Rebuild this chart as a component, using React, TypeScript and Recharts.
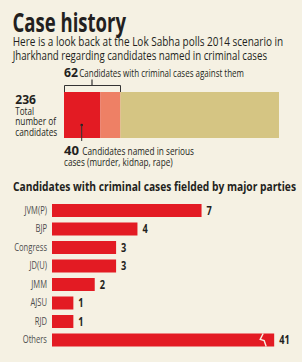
import React from "react";
import { Bar, BarChart, LabelList, XAxis, YAxis } from "recharts";

const totalCandidates = 236;
const criminalCandidates = 62;
const seriousCandidates = 40;

const parties = ["JVM(P)", "BJP", "Congress", "JD(U)", "JMM", "AJSU", "RJD", "Others"];
const partyCases = [7, 4, 3, 3, 2, 1, 1, 41];

// the axis stops at 11; anything longer is drawn as a broken bar
const axisMax = 11;
const breakAt = 10.4;

const BG = "#f5f1e3";
const RED = "#e31b23";
const SALMON = "#ee8065";
const TAN = "#d5c583";
const INK = "#231f20";
const FONT = "'Open Sans', 'Liberation Sans', sans-serif";

const summary = [
  {
    name: "all",
    serious: seriousCandidates,
    otherCriminal: criminalCandidates - seriousCandidates,
    clean: totalCandidates - criminalCandidates,
  },
];

const partyRows = parties.map((party, i) => ({
  party,
  value: partyCases[i],
  shown: Math.min(partyCases[i], breakAt),
}));

// condensed text: the source face is much narrower than anything installed
function T({
  x,
  y,
  len,
  size,
  bold,
  children,
}: {
  x: number;
  y: number;
  len: number;
  size: number;
  bold?: boolean;
  children: React.ReactNode;
}) {
  return (
    <text
      x={x}
      y={y}
      textLength={len}
      lengthAdjust="spacingAndGlyphs"
      fontSize={size}
      fontWeight={bold ? 700 : 400}
      fill={INK}
      fontFamily={FONT}
    >
      {children}
    </text>
  );
}

function PartyTick(props: any) {
  const { x, y, payload } = props;
  return (
    <g transform={`translate(${x},${y + 3.5}) scale(0.76,1)`}>
      <text textAnchor="end" fontSize={10} fill="#4d4d4d" fontFamily={FONT}>
        {payload.value}
      </text>
    </g>
  );
}

function PartyBar(props: any) {
  const { x, y, width, height, payload } = props;
  const broken = payload.value > payload.shown;
  const bx = x + width - 12;
  return (
    <g>
      <rect x={x} y={y} width={width} height={height} fill={RED} />
      {broken && (
        <polyline
          points={`${bx + 1},${y} ${bx - 2},${y + height * 0.45} ${bx + 2},${y + height * 0.55} ${bx + 4},${y + height}`}
          fill="none"
          stroke={BG}
          strokeWidth={1.4}
        />
      )}
    </g>
  );
}

function ValueLabel(props: any) {
  const { x, y, width, height, value } = props;
  return (
    <g transform={`translate(${x + width + 5},${y + height / 2 + 4}) scale(0.8,1)`}>
      <text fontSize={11.5} fontWeight={700} fill={INK} fontFamily={FONT}>
        {value}
      </text>
    </g>
  );
}

export default function App() {
  return (
    <div
      style={{
        position: "absolute",
        left: 0,
        top: 0,
        width: 302,
        height: 362,
        background: BG,
        overflow: "hidden",
      }}
    >
      <div style={{ position: "absolute", left: 0, top: 92 }}>
        <BarChart
          width={302}
          height={46}
          layout="vertical"
          data={summary}
          margin={{ top: 0, right: 23, bottom: 0, left: 64 }}
          barCategoryGap={0}
        >
          <XAxis type="number" hide domain={[0, totalCandidates]} />
          <YAxis type="category" dataKey="name" hide />
          <Bar dataKey="serious" stackId="a" fill={RED} isAnimationActive={false} />
          <Bar dataKey="otherCriminal" stackId="a" fill={SALMON} isAnimationActive={false} />
          <Bar dataKey="clean" stackId="a" fill={TAN} isAnimationActive={false} />
        </BarChart>
      </div>

      <div style={{ position: "absolute", left: 0, top: 201 }}>
        <BarChart
          width={302}
          height={148}
          layout="vertical"
          data={partyRows}
          margin={{ top: 0, right: 15, bottom: 0, left: 0 }}
          barSize={13}
        >
          <XAxis type="number" hide domain={[0, axisMax]} />
          <YAxis
            type="category"
            dataKey="party"
            width={52}
            axisLine={false}
            tickLine={false}
            tickSize={3}
            tickMargin={2}
            interval={0}
            tick={<PartyTick />}
          />
          <Bar dataKey="shown" shape={<PartyBar />} isAnimationActive={false}>
            <LabelList dataKey="value" content={<ValueLabel />} />
          </Bar>
        </BarChart>
      </div>

      <svg
        width={302}
        height={362}
        style={{ position: "absolute", left: 0, top: 0, pointerEvents: "none" }}
      >
        <T x={12.5} y={31.7} len={113.5} size={27} bold>
          Case history
        </T>
        <T x={12.7} y={45.5} len={270.5} size={12}>
          Here is a look back at the Lok Sabha polls 2014 scenario in
        </T>
        <T x={12.7} y={59.5} len={254.3} size={12}>
          Jharkhand regarding candidates named in criminal cases
        </T>

        <T x={64} y={76.7} len={14} size={12.5} bold>
          {String(criminalCandidates)}
        </T>
        <T x={79.3} y={76.7} len={164.7} size={10}>
          Candidates with criminal cases against them
        </T>
        <path d="M64.5 92 V85.5 H120.5 V92" fill="none" stroke="#333" strokeWidth={1} />
        <path d="M92 85.5 V79.5" stroke="#333" strokeWidth={1.2} />

        <T x={15.3} y={104} len={20.7} size={12.5} bold>
          {String(totalCandidates)}
        </T>
        <T x={15.3} y={114.5} len={18.7} size={10}>
          Total
        </T>
        <T x={15.3} y={125.3} len={40.7} size={10}>
          number of
        </T>
        <T x={15.3} y={136} len={42} size={10}>
          candidates
        </T>

        <circle cx={81.7} cy={125} r={1.3} fill="#222" />
        <path d="M81.7 125 V141" stroke="#333" strokeWidth={1} />
        <T x={64} y={155.3} len={15} size={12.5} bold>
          {String(seriousCandidates)}
        </T>
        <T x={82.3} y={155.3} len={111.7} size={10}>
          Candidates named in serious
        </T>
        <T x={64} y={165.5} len={108.7} size={10}>
          cases (murder, kidnap, rape)
        </T>

        <T x={13} y={191} len={283} size={12} bold>
          Candidates with criminal cases fielded by major parties
        </T>
      </svg>
    </div>
  );
}
